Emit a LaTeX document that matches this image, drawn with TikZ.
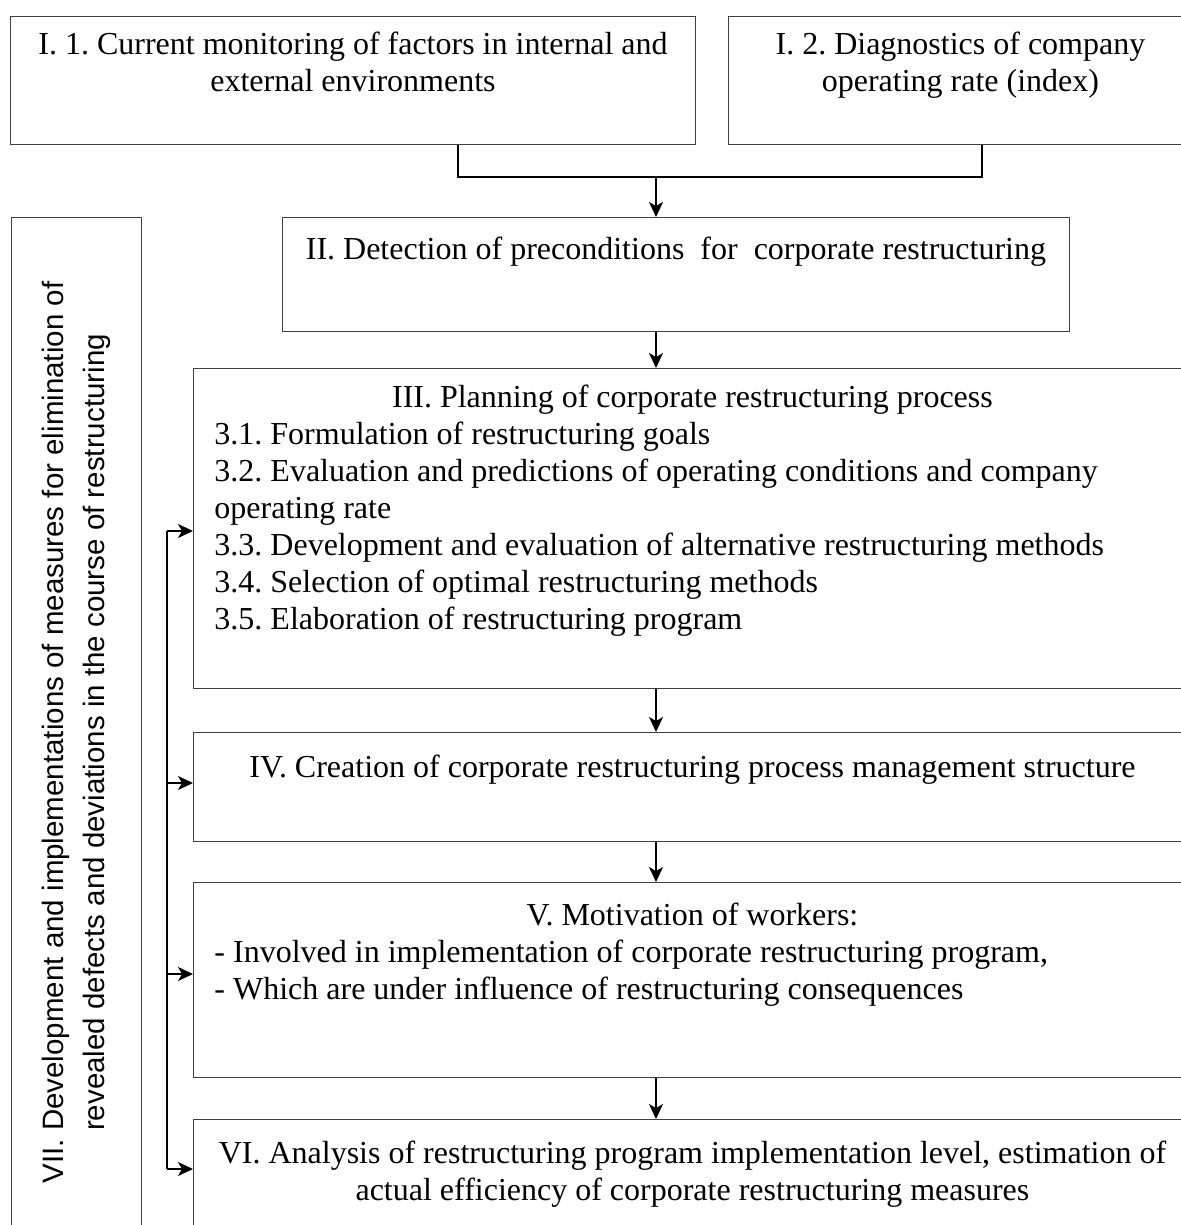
\documentclass[tikz,border=0pt]{standalone}
\usepackage{fontspec}
\setmainfont{Liberation Serif}
\newfontfamily\sansfnt{Liberation Sans}
\usetikzlibrary{arrows.meta,positioning,calc}
\frenchspacing

\begin{document}
\begin{tikzpicture}[x=1pt,y=-1pt,
  box/.style={draw=black!75,line width=0.9pt,rectangle,inner sep=0pt,anchor=north west},
  txt/.style={inner sep=0pt,anchor=north,font=\fontsize{32}{37}\selectfont},
  link/.style={line width=1.6pt},
  arr/.style={line width=1.6pt,-{Stealth[length=15pt,width=14pt,inset=4pt]}}]
\useasboundingbox (0,0) rectangle (1180,1225);
% boxes
\node[box,minimum width=685pt,minimum height=128pt] (i1) at (10,16) {};
\node[box,minimum width=464pt,minimum height=128pt] (i2) at (728,16) {};
\node[box,minimum width=787pt,minimum height=114pt] (det) at (282,217) {};
\node[box,minimum width=998pt,minimum height=320pt] (plan) at (193,368) {};
\node[box,minimum width=998pt,minimum height=109pt] (struct) at (193,732) {};
\node[box,minimum width=998pt,minimum height=195pt] (motiv) at (193,882) {};
\node[box,minimum width=998pt,minimum height=140pt] (anal) at (193,1119) {};
\node[box,minimum width=130pt,minimum height=1020pt] (vii) at (11,217) {};
% texts
\node[txt,below=16pt of i1.north,align=center] (i1t) {I. 1. Current monitoring of factors in internal and\\external environments};
\node[txt,below=16pt of i2.north,align=center] (i2t) {I. 2. Diagnostics of company\\operating rate (index)};
\node[txt,below=20pt of det.north] (dett) {II. Detection of preconditions\ \ for\ \ corporate restructuring};
\node[txt,below=17pt of plan.north,text width=956pt,align=flush left] (plant) {\makebox[956pt]{III. Planning of corporate restructuring process}\\
  3.1. Formulation of restructuring goals\\
  3.2. Evaluation and predictions of operating conditions and company\\
  operating rate\\
  3.3. Development and evaluation of alternative restructuring methods\\
  3.4. Selection of optimal restructuring methods\\
  3.5. Elaboration of restructuring program};
\node[txt,below=23pt of struct.north] (structt) {IV. Creation of corporate restructuring process management structure};
\node[txt,below=21pt of motiv.north,text width=956pt,align=flush left] (motivt) {\makebox[956pt]{V. Motivation of workers:}\\
  - Involved in implementation of corporate restructuring program,\\
  - Which are under influence of restructuring consequences};
\node[txt,below=22pt of anal.north,align=center] (analt) {VI. Analysis of restructuring program implementation level, estimation of\\actual efficiency of corporate restructuring measures};
\node[rotate=90,inner sep=0pt,align=center,xshift=-5pt,font=\sansfnt\fontsize{29.5}{41}\selectfont] (viit) at (vii.center) {VII. Development and implementations of measures for elimination of\\revealed defects and deviations in the course of restructuring};
% connectors
\coordinate (j1) at (458,177);
\coordinate (j2) at (982,177);
\coordinate (j0) at (656,177);
\draw[link] (i1.south -| j1) -- (j1) -- (j2) -- (i2.south -| j2);
\draw[arr] (j0) -- (j0 |- det.north);
\draw[arr] (det.south -| j0) -- (plan.north -| j0);
\draw[arr] (plan.south -| j0) -- (struct.north -| j0);
\draw[arr] (struct.south -| j0) -- (motiv.north -| j0);
\draw[arr] (motiv.south -| j0) -- (anal.north -| j0);
% feedback from VII
\coordinate (f1) at (167,531);
\coordinate (f2) at (167,783);
\coordinate (f3) at (167,974);
\coordinate (f4) at (167,1169);
\draw[link] (f1) -- (f4);
\foreach \f/\b in {f1/plan,f2/struct,f3/motiv,f4/anal}
  \draw[arr] (\f) -- (\f -| \b.west);
\end{tikzpicture}
\end{document}
